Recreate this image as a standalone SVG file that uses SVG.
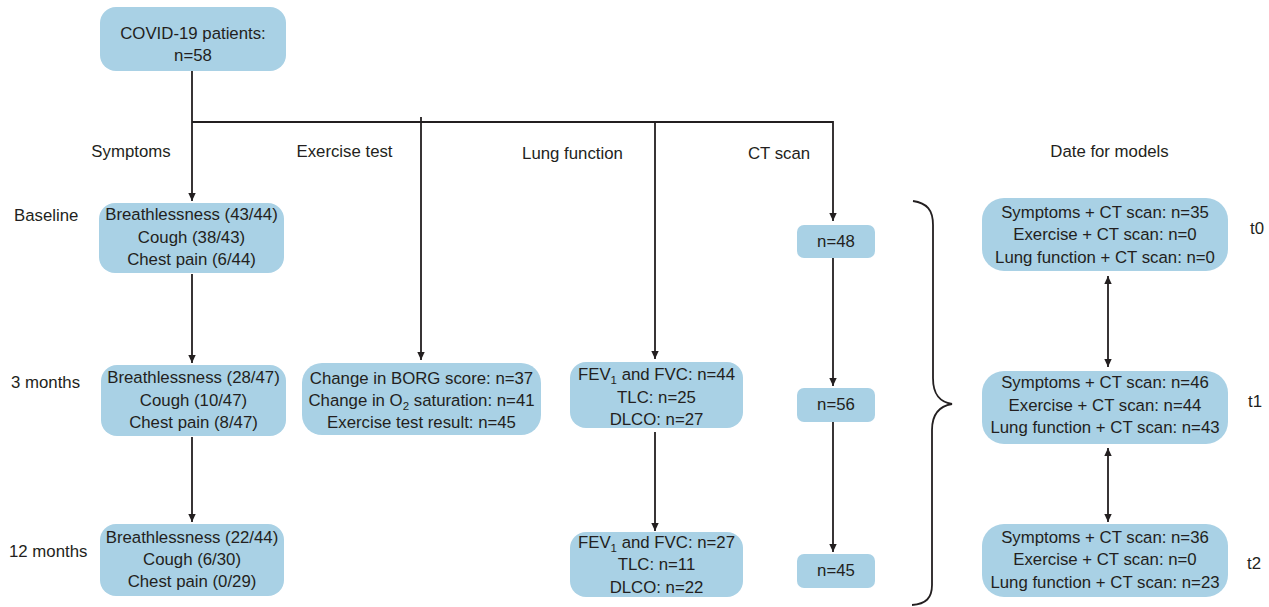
<svg xmlns="http://www.w3.org/2000/svg" width="1269" height="607" viewBox="0 0 1269 607">
<defs>
<style>
.box{fill:#a9d1e5;}
text{font-family:"Liberation Sans",Arial,sans-serif;font-size:16.8px;fill:#231f20;}
.c{text-anchor:middle;}
.ln{fill:none;stroke:#231f20;stroke-width:1.8;}
.sub{font-size:11.5px;}
</style>
<marker id="ah" markerUnits="userSpaceOnUse" markerWidth="9" markerHeight="9" refX="8" refY="4.5" orient="auto-start-reverse" viewBox="0 0 9 9">
<path d="M0,0.8 L8,4.5 L0,8.2 z" fill="#231f20"/>
</marker>
</defs>
<rect width="1269" height="607" fill="#ffffff"/>

<g id="connectors">
<path class="ln" d="M192 71 V201" marker-end="url(#ah)"/>
<path class="ln" d="M192 122 H833 V221" marker-end="url(#ah)"/>
<path class="ln" d="M421 117 V360" marker-end="url(#ah)"/>
<path class="ln" d="M655 122 V359" marker-end="url(#ah)"/>
<path class="ln" d="M192 274 V363" marker-end="url(#ah)"/>
<path class="ln" d="M192 437 V522" marker-end="url(#ah)"/>
<path class="ln" d="M655 432 V531" marker-end="url(#ah)"/>
<path class="ln" d="M833 258 V386" marker-end="url(#ah)"/>
<path class="ln" d="M833 422 V552" marker-end="url(#ah)"/>
<path class="ln" d="M1108 276 V367" marker-start="url(#ah)" marker-end="url(#ah)"/>
<path class="ln" d="M1108 448 V522" marker-start="url(#ah)" marker-end="url(#ah)"/>
<path class="ln" d="M913 201 C927 203 933 210 933 225 L933 378 C933 395 940 402 952 404 C940 406 932 413 932 430 L932 585 C932 598 926 604 912 605"/>
</g>

<g id="labels">
<text class="c" x="131" y="157">Symptoms</text>
<text class="c" x="344.5" y="157">Exercise test</text>
<text class="c" x="572.5" y="159">Lung function</text>
<text class="c" x="779" y="159">CT scan</text>
<text class="c" x="1109.5" y="157">Date for models</text>
<text x="14" y="221">Baseline</text>
<text x="11" y="388">3 months</text>
<text x="9" y="557">12 months</text>
<text x="1250" y="234">t0</text>
<text x="1248" y="407">t1</text>
<text x="1247" y="569">t2</text>
</g>

<g id="n-patients">
<rect class="box" x="100" y="7" width="186" height="64" rx="16"/>
<text class="c" x="193" y="39">COVID-19 patients:</text>
<text class="c" x="193" y="61">n=58</text>
</g>

<g id="n-sym-base">
<rect class="box" x="99" y="203" width="185" height="70" rx="16"/>
<text class="c" x="191.5" y="220">Breathlessness (43/44)</text>
<text class="c" x="191.5" y="243">Cough (38/43)</text>
<text class="c" x="191.5" y="265">Chest pain (6/44)</text>
</g>

<g id="n-sym-3m">
<rect class="box" x="101" y="365" width="185" height="71" rx="16"/>
<text class="c" x="193.5" y="383">Breathlessness (28/47)</text>
<text class="c" x="193.5" y="406">Cough (10/47)</text>
<text class="c" x="193.5" y="428">Chest pain (8/47)</text>
</g>

<g id="n-sym-12m">
<rect class="box" x="100" y="524" width="184" height="72" rx="16"/>
<text class="c" x="192" y="543">Breathlessness (22/44)</text>
<text class="c" x="192" y="565">Cough (6/30)</text>
<text class="c" x="192" y="587">Chest pain (0/29)</text>
</g>

<g id="n-exercise">
<rect class="box" x="302" y="363" width="239" height="72" rx="20"/>
<text class="c" x="421.5" y="384">Change in BORG score: n=37</text>
<text class="c" x="421.5" y="406">Change in O<tspan class="sub" dy="4">2</tspan><tspan dy="-4"> saturation: n=41</tspan></text>
<text class="c" x="421.5" y="428">Exercise test result: n=45</text>
</g>

<g id="n-lung-3m">
<rect class="box" x="570" y="362" width="173" height="66" rx="16"/>
<text class="c" x="656.5" y="380">FEV<tspan class="sub" dy="4">1</tspan><tspan dy="-4"> and FVC: n=44</tspan></text>
<text class="c" x="656.5" y="403">TLC: n=25</text>
<text class="c" x="656.5" y="425">DLCO: n=27</text>
</g>

<g id="n-lung-12m">
<rect class="box" x="570" y="532" width="173" height="65" rx="16"/>
<text class="c" x="656.5" y="548">FEV<tspan class="sub" dy="4">1</tspan><tspan dy="-4"> and FVC: n=27</tspan></text>
<text class="c" x="656.5" y="570">TLC: n=11</text>
<text class="c" x="656.5" y="593">DLCO: n=22</text>
</g>

<g id="n-ct-base">
<rect class="box" x="797" y="225" width="78" height="33" rx="7"/>
<text class="c" x="836" y="247">n=48</text>
</g>
<g id="n-ct-3m">
<rect class="box" x="797" y="388" width="78" height="34" rx="7"/>
<text class="c" x="836" y="410">n=56</text>
</g>
<g id="n-ct-12m">
<rect class="box" x="797" y="554" width="78" height="34" rx="7"/>
<text class="c" x="836" y="576">n=45</text>
</g>

<g id="n-t0">
<rect class="box" x="982" y="198" width="246" height="73" rx="22"/>
<text class="c" x="1105" y="218">Symptoms + CT scan: n=35</text>
<text class="c" x="1105" y="240">Exercise + CT scan: n=0</text>
<text class="c" x="1105" y="263">Lung function + CT scan: n=0</text>
</g>
<g id="n-t1">
<rect class="box" x="982" y="371" width="246" height="73" rx="22"/>
<text class="c" x="1105" y="388">Symptoms + CT scan: n=46</text>
<text class="c" x="1105" y="411">Exercise + CT scan: n=44</text>
<text class="c" x="1105" y="433">Lung function + CT scan: n=43</text>
</g>
<g id="n-t2">
<rect class="box" x="982" y="524" width="246" height="73" rx="22"/>
<text class="c" x="1105" y="543">Symptoms + CT scan: n=36</text>
<text class="c" x="1105" y="565">Exercise + CT scan: n=0</text>
<text class="c" x="1105" y="588">Lung function + CT scan: n=23</text>
</g>
</svg>
